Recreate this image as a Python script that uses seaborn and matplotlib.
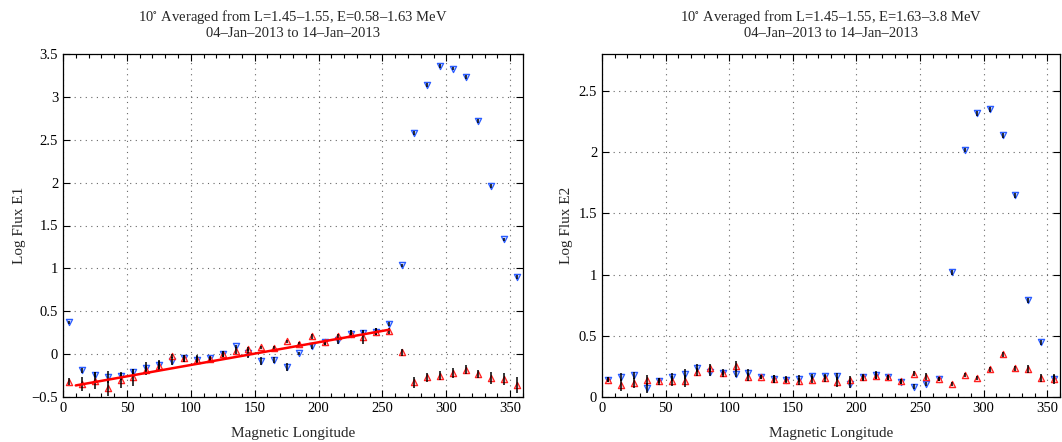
import numpy as np
import pandas as pd
import matplotlib
matplotlib.use('Agg')
import matplotlib.pyplot as plt
from matplotlib.ticker import MultipleLocator, FuncFormatter
import seaborn as sns

# magnetic longitude bin centres (10 deg bins)
lon = [5, 15, 25, 35, 45, 55, 65, 75, 85, 95,
       105, 115, 125, 135, 145, 155, 165, 175, 185, 195,
       205, 215, 225, 235, 245, 255, 265, 275, 285, 295,
       305, 315, 325, 335, 345, 355]

# E1 channel (0.58-1.63 MeV)
e1_red = [-0.32, -0.35, -0.31, -0.39, -0.30, -0.27, -0.19, -0.14, -0.02, -0.05,
          -0.07, -0.06, 0.00, 0.04, 0.06, 0.08, 0.07, 0.15, 0.12, 0.21,
          0.14, 0.21, 0.24, 0.20, 0.26, 0.27, 0.02, -0.33, -0.27, -0.25,
          -0.22, -0.18, -0.23, -0.28, -0.29, -0.36]
e1_blue = [0.37, -0.19, -0.24, -0.27, -0.26, -0.21, -0.16, -0.13, -0.08, -0.05,
           -0.065, -0.05, 0.00, 0.09, 0.01, -0.08, -0.065, -0.15, 0.01, 0.09,
           0.14, 0.16, 0.24, 0.25, 0.26, 0.35, 1.035, 2.58, 3.14, 3.36,
           3.33, 3.23, 2.72, 1.96, 1.34, 0.90]
e1_red_err = [0.04, 0.08, 0.10, 0.10, 0.09, 0.10, 0.05, 0.06, 0.02, 0.045,
              0.05, 0.03, 0.035, 0.04, 0.02, 0.02, 0.02, 0.02, 0.02, 0.03,
              0.03, 0.03, 0.04, 0.08, 0.04, 0.03, 0.04, 0.06, 0.05, 0.05,
              0.06, 0.055, 0.05, 0.07, 0.07, 0.09]
e1_blue_err = [0.02, 0.03, 0.03, 0.07, 0.04, 0.04, 0.07, 0.06, 0.05, 0.045,
               0.05, 0.03, 0.035, 0.02, 0.05, 0.05, 0.035, 0.05, 0.02, 0.03,
               0.03, 0.04, 0.04, 0.03, 0.04, 0.02, 0.02, 0.02, 0.02, 0.02,
               0.02, 0.02, 0.02, 0.02, 0.02, 0.02]

# linear fit drawn over the quiet sector of E1
fit_lon = [10, 255]
fit_e1 = [-0.365, 0.284]

# E2 channel (1.63-3.8 MeV)
e2_red = [0.14, 0.095, 0.114, 0.141, 0.128, 0.133, 0.128, 0.204, 0.236, 0.196,
          0.25, 0.163, 0.163, 0.147, 0.141, 0.128, 0.141, 0.152, 0.12, 0.139,
          0.16, 0.174, 0.16, 0.13, 0.19, 0.166, 0.147, 0.106, 0.18, 0.155,
          0.228, 0.35, 0.236, 0.228, 0.155, 0.15]
e2_blue = [0.14, 0.163, 0.177, 0.073, 0.133, 0.163, 0.19, 0.236, 0.204, 0.196,
           0.19, 0.20, 0.163, 0.147, 0.141, 0.149, 0.168, 0.168, 0.168, 0.106,
           0.16, 0.18, 0.16, 0.125, 0.084, 0.106, 0.147, 1.02, 2.016, 2.317,
           2.35, 2.136, 1.645, 0.79, 0.446, 0.15]
e2_red_err = [0.02, 0.05, 0.04, 0.04, 0.03, 0.04, 0.05, 0.03, 0.03, 0.03,
              0.04, 0.03, 0.02, 0.03, 0.03, 0.03, 0.03, 0.03, 0.04, 0.03,
              0.03, 0.03, 0.02, 0.02, 0.02, 0.03, 0.02, 0.02, 0.02, 0.02,
              0.02, 0.02, 0.02, 0.03, 0.03, 0.04]
e2_blue_err = [0.02, 0.03, 0.03, 0.04, 0.02, 0.03, 0.04, 0.03, 0.03, 0.02,
               0.03, 0.03, 0.02, 0.03, 0.02, 0.03, 0.02, 0.02, 0.03, 0.03,
               0.02, 0.03, 0.02, 0.02, 0.02, 0.02, 0.02, 0.02, 0.02, 0.02,
               0.02, 0.02, 0.02, 0.02, 0.02, 0.03]

titles = [r'10$^{\circ}$ Averaged from L=1.45–1.55, E=0.58–1.63 MeV' + '\n04–Jan–2013 to 14–Jan–2013',
          r'10$^{\circ}$ Averaged from L=1.45–1.55, E=1.63–3.8 MeV' + '\n04–Jan–2013 to 14–Jan–2013']
ylabels = ['Log Flux E1', 'Log Flux E2']

sns.set_style('ticks')
plt.rcParams['font.family'] = ['Liberation Serif', 'DejaVu Serif']
plt.rcParams['mathtext.fontset'] = 'stix'
plt.rcParams['font.size'] = 10.5

df1 = pd.DataFrame({'lon': lon, 'red': e1_red, 'blue': e1_blue,
                    'red_err': e1_red_err, 'blue_err': e1_blue_err})
df2 = pd.DataFrame({'lon': lon, 'red': e2_red, 'blue': e2_blue,
                    'red_err': e2_red_err, 'blue_err': e2_blue_err})
fit_df = pd.DataFrame({'lon': fit_lon, 'val': fit_e1})

fig = plt.figure(figsize=(10.62, 4.42), dpi=100)
ax1 = fig.add_axes([63 / 1062, 45 / 442, 460 / 1062, 343 / 442])
ax2 = fig.add_axes([602 / 1062, 45 / 442, 458 / 1062, 343 / 442])

red_c = '#ff2020'
blue_c = '#2a5cff'
tick_fmt = FuncFormatter(lambda v, pos: ('%g' % round(v, 2)).replace('-', '−'))

for ax, df, title, ylab in [(ax1, df1, titles[0], ylabels[0]),
                            (ax2, df2, titles[1], ylabels[1])]:
    sns.scatterplot(data=df, x='lon', y='blue', marker='v', s=20, color='#c4d2ff',
                    edgecolor=blue_c, linewidth=0.9, ax=ax, zorder=3, legend=False)
    sns.scatterplot(data=df, x='lon', y='red', marker='^', s=20, color='#ffcccc',
                    edgecolor=red_c, linewidth=0.9, ax=ax, zorder=3, legend=False)
    ax.errorbar(df['lon'], df['blue'], yerr=df['blue_err'], fmt='none',
                ecolor='k', elinewidth=1.1, capsize=0, zorder=4)
    ax.errorbar(df['lon'], df['red'], yerr=df['red_err'], fmt='none',
                ecolor='k', elinewidth=1.1, capsize=0, zorder=4)

    ax.set_xlim(0, 360)
    ax.xaxis.set_major_locator(MultipleLocator(50))
    ax.xaxis.set_minor_locator(MultipleLocator(10))
    ax.yaxis.set_major_locator(MultipleLocator(0.5))
    ax.yaxis.set_major_formatter(tick_fmt)
    ax.grid(True, which='major', linestyle=(0, (1, 4)), color='0.4', linewidth=0.8)
    ax.tick_params(which='both', direction='in', top=True, right=True,
                   labelsize=10.5, width=0.8, colors='k')
    ax.tick_params(which='major', length=5)
    ax.tick_params(which='minor', length=3)
    for sp in ax.spines.values():
        sp.set_linewidth(0.9)
        sp.set_color('k')
    ax.set_title(title, fontsize=10.5, pad=12, linespacing=1.15)

sns.lineplot(data=fit_df, x='lon', y='val', color='#ff0000', linewidth=1.8,
             ax=ax1, zorder=5)
ax1.set_ylim(-0.5, 3.5)
ax2.set_ylim(0, 2.8)
for ax, ylab in [(ax1, ylabels[0]), (ax2, ylabels[1])]:
    ax.set_xlabel('Magnetic Longitude', fontsize=11, labelpad=9)
    ax.set_ylabel(ylab, fontsize=11, labelpad=4)

fig.savefig('out.png', dpi=100)
